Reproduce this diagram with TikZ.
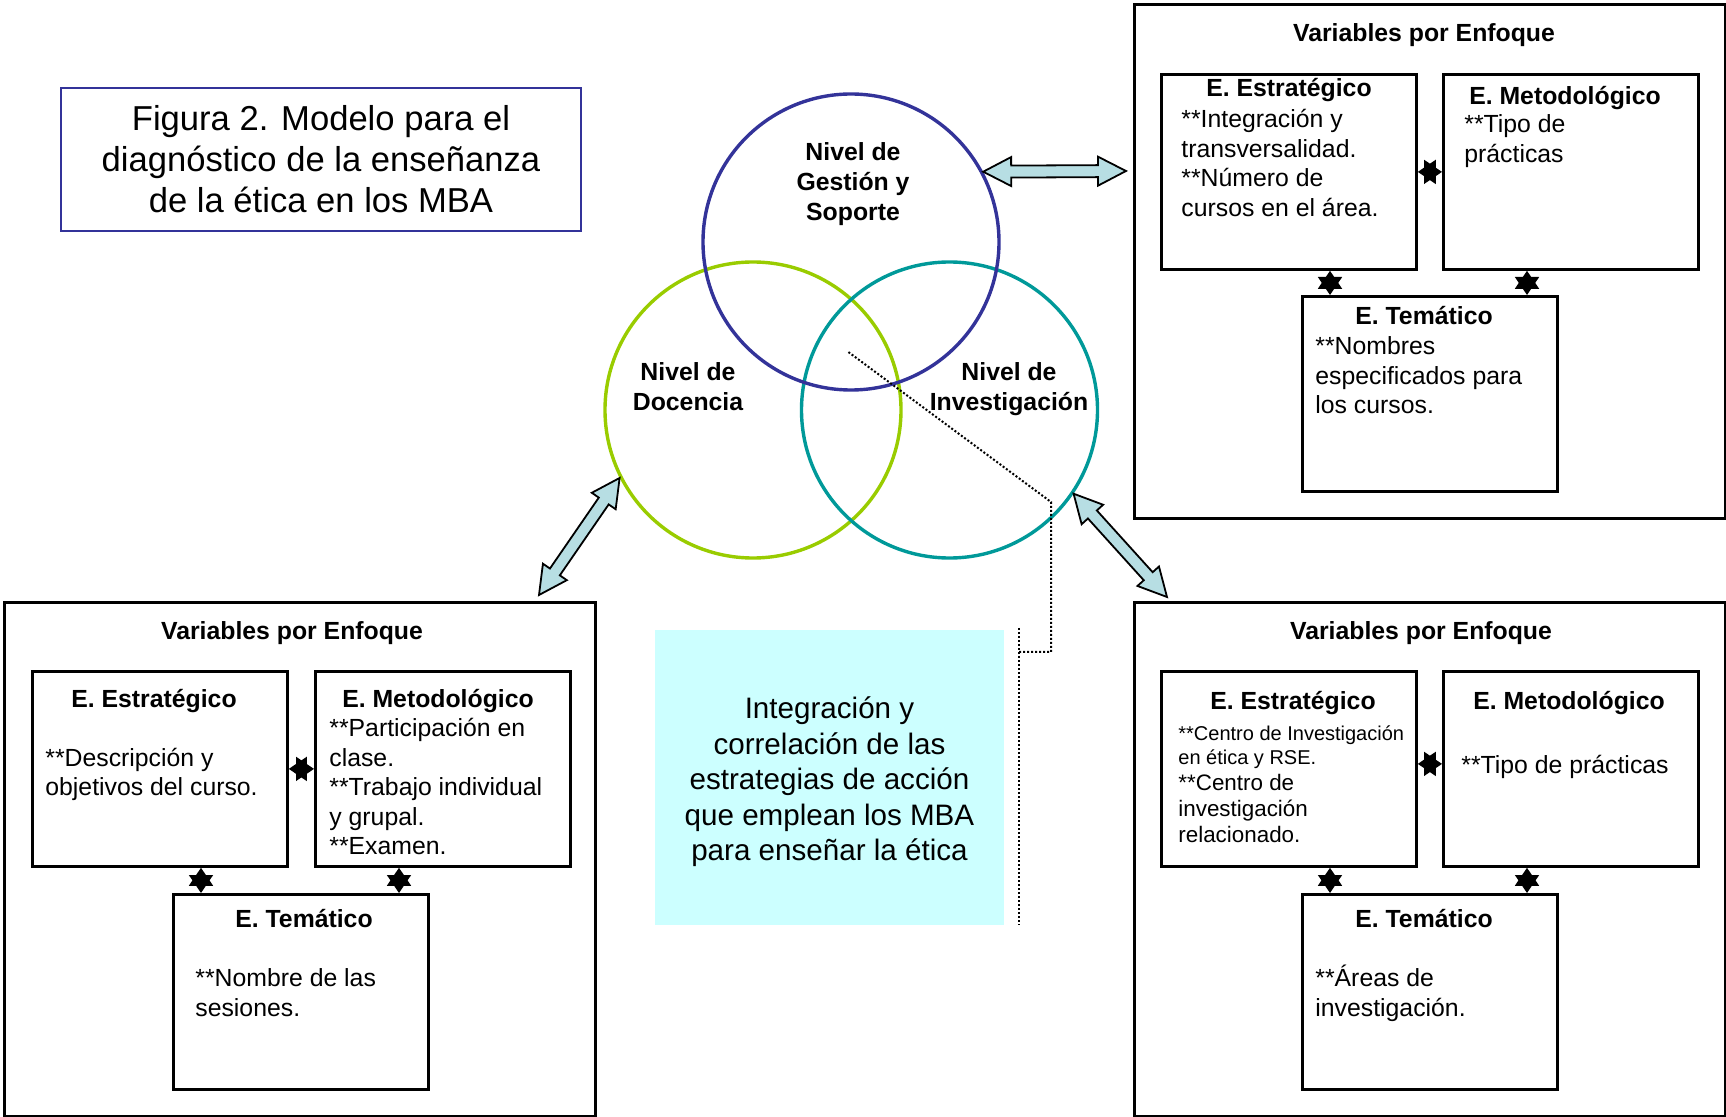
\documentclass[tikz,border=0pt]{standalone}
\usepackage{fontspec}
\setmainfont{Liberation Sans}
\usetikzlibrary{arrows.meta,calc}
\definecolor{cblue}{HTML}{333399}
\definecolor{cgreen}{HTML}{99CC00}
\definecolor{cteal}{HTML}{009999}
\definecolor{afill}{HTML}{B7DEE3}
\definecolor{cyanbox}{HTML}{CCFFFF}
\newcommand{\setfs}[2]{\fontsize{#1}{#2}\selectfont}
\newcommand{\blockarrow}[2]{%
  \coordinate (ba1) at ($(#1)!14pt!(#2)$);
  \coordinate (ba2) at ($(#2)!14pt!(#1)$);
  \filldraw[barrow] (#1) -- ($(ba1)!7.25pt!90:(#2)$) -- ($(ba1)!3pt!90:(#2)$)
    -- ($(ba2)!3pt!-90:(#1)$) -- ($(ba2)!7.25pt!-90:(#1)$) -- (#2)
    -- ($(ba2)!7.25pt!90:(#1)$) -- ($(ba2)!3pt!90:(#1)$)
    -- ($(ba1)!3pt!-90:(#2)$) -- ($(ba1)!7.25pt!-90:(#2)$) -- cycle;}
\begin{document}
\begin{tikzpicture}[x=0.5pt,y=-0.5pt,
  tit/.style={font=\bfseries\setfs{12.4}{14.75}, anchor=base, inner sep=0},
  bod/.style={font=\setfs{12.4}{14.75}, anchor=base west, align=left, inner sep=0},
  ibox/.style={draw, line width=1.4pt, anchor=north west, minimum width=127.5pt, minimum height=97.5pt, inner sep=0},
  opanel/.style={draw, line width=1.4pt, anchor=north west, inner sep=0, minimum width=295.5pt, minimum height=257pt},
  circ/.style={circle, minimum size=148pt, inner sep=0, line width=1.7pt},
  lab/.style={font=\bfseries\setfs{12.4}{14.8}, align=center, anchor=base, inner sep=0},
  dotline/.style={line width=1pt, dash pattern=on 1pt off 1pt},
  barrow/.style={draw=black, fill=afill, line width=0.9pt, line join=miter},
  starc/.style={line width=0.8pt, {Triangle[length=9pt,width=12pt]}-{Triangle[length=9pt,width=12pt]}}
]
\useasboundingbox (0,0) rectangle (1726,1117);

% title
\node[draw=cblue, line width=0.9pt, minimum width=260.25pt, minimum height=71.5pt, inner sep=0,
      align=center, font=\setfs{17.3}{20.5}] (title) at (321,159.5)
  {Figura 2. Modelo para el\\diagnóstico de la enseñanza\\de la ética en los MBA};

% circles
\node[circ, draw=cgreen] (cd) at (753,410) {};
\node[circ, draw=cteal] (ci) at (949.5,410) {};
\node[circ, draw=cblue] (cg) at (851,242) {};
\node[lab] (lg) at (853,220.2) {Nivel de\\Gestión y\\Soporte};
\node[lab] (ld) at (688,410.6) {Nivel de\\Docencia};
\node[lab] (li) at (1009,410.6) {Nivel de\\Investigación};

% central box
\node[fill=cyanbox, minimum width=174.5pt, minimum height=147.5pt, inner sep=0] (integ) at (829.5,777.5) {};
\node[align=center, font=\setfs{14.8}{17.75}, inner sep=0] (integt) at (829.5,782)
  {Integración y\\correlación de las\\estrategias de acción\\que emplean los MBA\\para enseñar la ética};

% callout
\coordinate (cbT) at (1019,628);
\coordinate (cbB) at (1019,925);
\coordinate (cbM) at (1019,652);
\coordinate (ck1) at (1051,652);
\coordinate (ck2) at (1051,502);
\coordinate (ctip) at (847,351);
\draw[dotline] (cbT) -- (cbB);
\draw[dotline] (cbM) -- (ck1) -- (ck2) -- (ctip);

% panels
\node[opanel] (trP) at (1133,3.3) {};
\node[opanel] (blP) at (3.3,601) {};
\node[opanel] (brP) at (1133,601) {};
\node[tit] (trPt) at (1424,42) {Variables por Enfoque};
\node[tit] (blPt) at (292,640) {Variables por Enfoque};
\node[tit] (brPt) at (1421,640) {Variables por Enfoque};

% block arrows
\coordinate (a1a) at (cg.28.3);
\coordinate (a1b) at (1126,171);
\coordinate (a2a) at (cd.207.4);
\coordinate (a2b) at (539,595);
\coordinate (a3a) at (ci.-34.3);
\coordinate (a3b) at (1167,597);
\blockarrow{a1a}{a1b}
\blockarrow{a2a}{a2b}
\blockarrow{a3a}{a3b}

% ---- top right panel
\node[ibox] (trE) at (1160,73) {};
\node[ibox] (trM) at (1442,73) {};
\node[ibox] (trT) at (1301,295) {};
\node[tit] at (1289,97) {E. Estratégico};
\node[bod] at (1181,216.5) {**Integración y\\transversalidad.\\**Número de\\cursos en el área.};
\node[tit] at (1565,105) {E. Metodológico};
\node[bod] at (1464,162.5) {**Tipo de\\prácticas};
\node[tit] at (1424,325) {E. Temático};
\node[bod] at (1315,413.6) {**Nombres\\especificados para\\los cursos.};
\draw[starc] (trE.east) -- (trM.west);
\path (trE.south west) ++(170,0) coordinate (trs1);
\path (trM.south west) ++(85,0) coordinate (trs2);
\draw[starc] (trs1) -- (trs1 |- trT.north);
\draw[starc] (trs2) -- (trs2 |- trT.north);

% ---- bottom left panel
\node[ibox] (blE) at (31,670) {};
\node[ibox] (blM) at (314,670) {};
\node[ibox] (blT) at (172,893) {};
\node[tit] at (154,708) {E. Estratégico};
\node[bod] at (45,795.5) {**Descripción y\\objetivos del curso.};
\node[tit] at (438,708) {E. Metodológico};
\node[bod] at (329,854.6) {**Participación en\\clase.\\**Trabajo individual\\y grupal.\\**Examen.};
\node[tit] at (304,927) {E. Temático};
\node[bod] at (195,1016) {**Nombre de las\\sesiones.};
\draw[starc] (blE.east) -- (blM.west);
\path (blE.south west) ++(170,0) coordinate (bls1);
\path (blM.south west) ++(85,0) coordinate (bls2);
\draw[starc] (bls1) -- (bls1 |- blT.north);
\draw[starc] (bls2) -- (bls2 |- blT.north);

% ---- bottom right panel
\node[ibox] (brE) at (1160,670) {};
\node[ibox] (brM) at (1442,670) {};
\node[ibox] (brT) at (1301,893) {};
\node[tit] at (1293,710) {E. Estratégico};
\node[bod, font=\setfs{10}{12}] at (1178,764) {**Centro de Investigación\\en ética y RSE.};
\node[bod, font=\setfs{11.2}{13}] at (1178,842) {**Centro de\\investigación\\relacionado.};
\node[tit] at (1569,710) {E. Metodológico};
\node[bod] at (1461,773) {**Tipo de prácticas};
\node[tit] at (1424,927) {E. Temático};
\node[bod] at (1315,1016) {**Áreas de\\investigación.};
\draw[starc] ($(brE.east)+(0,-5)$) -- ($(brM.west)+(0,-5)$);
\path (brE.south west) ++(170,0) coordinate (brs1);
\path (brM.south west) ++(85,0) coordinate (brs2);
\draw[starc] (brs1) -- (brs1 |- brT.north);
\draw[starc] (brs2) -- (brs2 |- brT.north);
\end{tikzpicture}
\end{document}
